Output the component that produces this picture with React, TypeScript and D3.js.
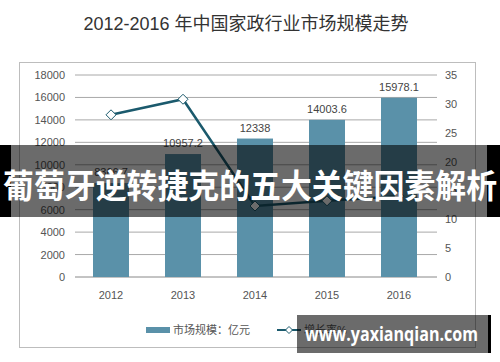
import React from "react";
import * as d3 from "d3";

const years = ["2012", "2013", "2014", "2015", "2016"];
const marketSize = [8366.7, 10957.2, 12338, 14003.6, 15978.1];
const growthRate = [28.1, 30.8, 12.3, 13.2, 14.0];
const leftTicks = [0, 2000, 4000, 6000, 8000, 10000, 12000, 14000, 16000, 18000];
const rightTicks = [0, 5, 10, 15, 20, 25, 30, 35];
const title = "2012-2016 年中国家政行业市场规模走势";
const legendBar = "市场规模：亿元";
const legendLine = "增长率%";
const banner = "葡萄牙逆转捷克的五大关键因素解析";
const watermark = "www.yaxianqian.com";

const W = 500;
const H = 362;
const plotL = 75;
const plotR = 435;
const plotT = 75;
const plotB = 277;
const font = "'Liberation Sans', Arial, 'Noto Sans CJK SC', sans-serif";
const barColor = "#5a91a9";
const lineColor = "#1b5a6d";

export default function App() {
  const x = d3.scaleBand<string>().domain(years).range([plotL, plotR]).paddingInner(0.5).paddingOuter(0.25);
  const yL = d3.scaleLinear().domain([0, 18000]).range([plotB, plotT]);
  const yR = d3.scaleLinear().domain([0, 35]).range([plotB, plotT]);
  const line = d3
    .line<number>()
    .x((_, i) => (x(years[i]) as number) + x.bandwidth() / 2)
    .y((d) => yR(d));
  const diamond = (cx: number, cy: number, r: number) =>
    `M${cx},${cy - r}L${cx + r},${cy}L${cx},${cy + r}L${cx - r},${cy}Z`;

  return (
    <svg width={W} height={H} style={{ position: "absolute", left: 0, top: 0, background: "#fff" }} fontFamily={font}>
      <rect x={0} y={0} width={W} height={H} fill="#fff" />
      <text x={246} y={30} textAnchor="middle" fontSize={18} fill="#333">
        {title}
      </text>
      <rect x={19.5} y={62.5} width={456} height={285} fill="none" stroke="#bdbdbd" strokeWidth={1} />
      {leftTicks.map((t) => (
        <g key={t}>
          <line x1={plotL} x2={plotR + 2} y1={yL(t)} y2={yL(t)} stroke={t === 0 ? "#888" : "#a8a8a8"} strokeWidth={1} />
          <text x={65} y={yL(t) + 4} textAnchor="end" fontSize={11} fill="#555">
            {t}
          </text>
        </g>
      ))}
      {rightTicks.map((t) => (
        <text key={t} x={445} y={yR(t) + 4} textAnchor="start" fontSize={11} fill="#555">
          {t}
        </text>
      ))}
      {years.map((yr, i) => (
        <g key={yr}>
          <rect
            x={x(yr)}
            y={yL(marketSize[i])}
            width={x.bandwidth()}
            height={plotB - yL(marketSize[i])}
            fill={barColor}
          />
          <text
            x={(x(yr) as number) + x.bandwidth() / 2}
            y={yL(marketSize[i]) - 7}
            textAnchor="middle"
            fontSize={11}
            fill="#444"
          >
            {marketSize[i]}
          </text>
          <text x={(x(yr) as number) + x.bandwidth() / 2} y={299} textAnchor="middle" fontSize={11} fill="#555">
            {yr}
          </text>
        </g>
      ))}
      <path d={line(growthRate) || ""} fill="none" stroke={lineColor} strokeWidth={2.5} />
      {growthRate.map((g, i) => (
        <path
          key={i}
          d={diamond((x(years[i]) as number) + x.bandwidth() / 2, yR(g), 5)}
          fill="#fff"
          stroke={lineColor}
          strokeWidth={1}
        />
      ))}
      <rect x={146} y={327} width={24} height={6} fill={barColor} />
      <text x={173} y={334} fontSize={11} fill="#555">
        {legendBar}
      </text>
      <line x1={277} x2={301} y1={330} y2={330} stroke={lineColor} strokeWidth={2} />
      <path d={diamond(289, 330, 3.5)} fill="#fff" stroke={lineColor} strokeWidth={1} />
      <text x={304} y={334} fontSize={11} fill="#555">
        {legendLine}
      </text>

      <rect x={0} y={145} width={11} height={72} fill="#000" />
      <rect x={11} y={145} width={476} height={72} fill="#000" opacity={0.58} />
      <rect x={487} y={145} width={13} height={72} fill="#000" />
      <text
        x={250}
        y={198}
        textAnchor="middle"
        fontSize={33}
        fontWeight="bold"
        fill="#fff"
        fontFamily="'Noto Sans CJK SC', sans-serif"
        textLength={494}
        lengthAdjust="spacingAndGlyphs"
      >
        {banner}
      </text>

      <rect x={297} y={315} width={191} height={38} fill="#000" opacity={0.58} />
      <rect x={488} y={315} width={3} height={38} fill="#000" />
      <text
        x={391.5}
        y={341}
        textAnchor="middle"
        fontSize={19}
        fontWeight="bold"
        fill="#fff"
        fontFamily="'Open Sans', 'DejaVu Sans', sans-serif"
        textLength={173}
        lengthAdjust="spacingAndGlyphs"
      >
        {watermark}
      </text>
    </svg>
  );
}
